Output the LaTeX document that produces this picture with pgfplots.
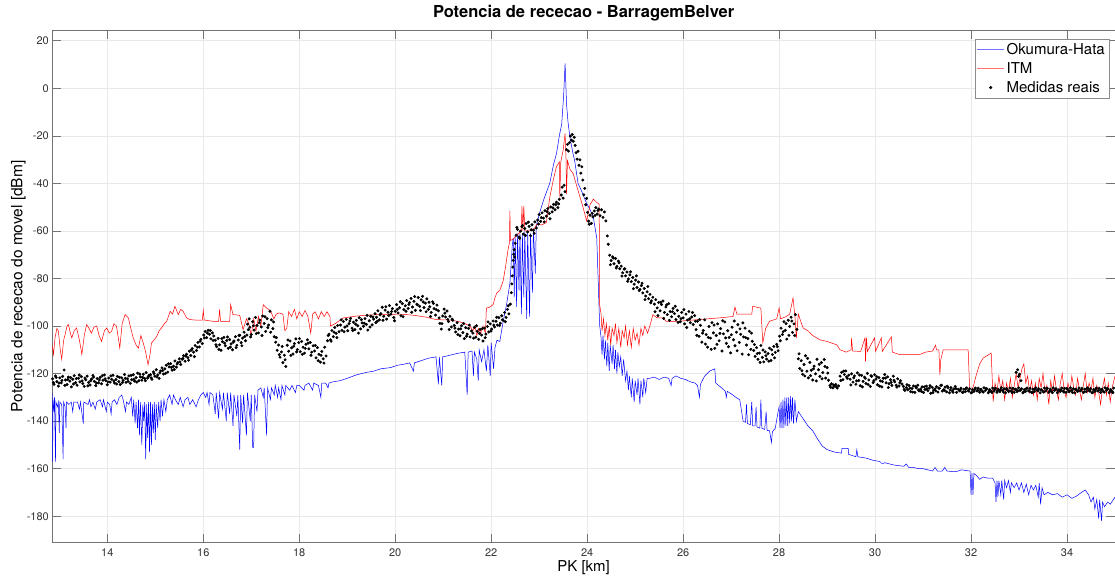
\documentclass[border=0pt]{standalone}
\usepackage{pgfplots}
\pgfplotsset{compat=1.18}
\usepackage{fontspec}
\setmainfont{TeX Gyre Heros}
\definecolor{axgray}{gray}{0.45}
\definecolor{tkgray}{gray}{0.2}
\begin{document}
\begin{tikzpicture}[x=1pt,y=1pt]
\useasboundingbox (0,0) rectangle (1115,575);
\begin{axis}[
  at={(52.3pt,32.3pt)}, anchor=south west,
  scale only axis, width=1062.7pt, height=512.7pt,
  xmin=12.854, xmax=35, ymin=-191.15, ymax=24.52,
  xtick={14,16,...,34}, ytick={-180,-160,...,20},
  grid=major, major grid style={gray!18, line width=0.5pt},
  axis line style={axgray, line width=0.6pt},
  every tick/.style={axgray, line width=0.6pt},
  major tick length=9pt,
  tick label style={font=\fontsize{11}{13}\selectfont, text=tkgray},
  xticklabel style={yshift=-2pt},
  /pgf/number format/assume math mode=true,
  title={Potencia de rececao - BarragemBelver},
  title style={at={(axis description cs:0.5,1)}, anchor=center, yshift=11pt, font=\fontsize{16.5}{19}\selectfont\bfseries},
  xlabel={PK [km]},
  xlabel style={at={(axis description cs:0.5,0)}, anchor=center, yshift=-25pt, font=\fontsize{15}{18}\selectfont},
  ylabel={Potencia de rececao do movel [dBm]},
  ylabel style={at={(axis description cs:0,0.5)}, anchor=center, yshift=34pt, font=\fontsize{15.5}{18}\selectfont},
  legend style={at={(axis description cs:1,1)}, anchor=north east, xshift=-6pt, yshift=-9pt,
    draw=black!45, line width=0.5pt, font=\fontsize{15}{17}\selectfont, inner sep=2pt,
    row sep=2.5pt, cells={anchor=west}},
]
\addlegendimage{legend image code/.code={\draw[draw=blue!55, line width=0.8pt] (0pt,0pt) -- (27pt,0pt);}}
\addlegendentry{Okumura-Hata}
\addlegendimage{legend image code/.code={\draw[draw=red!55, line width=0.8pt] (0pt,0pt) -- (27pt,0pt);}}
\addlegendentry{ITM}
\addlegendimage{legend image code/.code={\fill[fill=black] (13.5pt,0pt) circle (1.3pt);}}
\addlegendentry{Medidas reais}
\addplot[blue, line width=0.5pt, forget plot] table {
12.854 -128
12.86 -157
12.87 -131
12.89 -136
12.90 -130
12.92 -157
12.93 -132
12.96 -134
12.98 -132
13.00 -145
13.01 -132
13.05 -133
13.08 -156
13.09 -132
13.12 -134
13.14 -143
13.15 -132
13.20 -133
13.25 -132
13.28 -136
13.30 -132
13.38 -132
13.42 -135
13.44 -132
13.50 -141
13.51 -132
13.60 -133
13.63 -131
13.66 -134
13.70 -132
13.75 -135
13.78 -132
13.85 -131
13.90 -134
13.92 -131
13.98 -136
14.00 -132
14.05 -133
14.08 -137
14.10 -132
14.15 -131
14.20 -133
14.25 -130
14.30 -129
14.33 -131
14.38 -136
14.40 -132
14.45 -133
14.50 -130
14.53 -138
14.55 -131
14.58 -141
14.60 -132
14.63 -143
14.65 -131
14.67 -146
14.69 -132
14.72 -150
14.74 -133
14.76 -140
14.78 -132
14.80 -156
14.82 -133
14.84 -147
14.86 -132
14.88 -153
14.90 -132
14.92 -150
14.94 -133
14.96 -145
14.98 -132
15.00 -148
15.02 -133
15.05 -143
15.07 -132
15.10 -140
15.12 -131
15.15 -138
15.18 -131
15.22 -136
15.25 -131
15.30 -129
15.35 -133
15.38 -129
15.42 -131
15.48 -133
15.52 -130
15.58 -134
15.62 -131
15.68 -130
15.72 -133
15.78 -131
15.85 -134
15.90 -131
15.95 -129
16.00 -128
16.05 -130
16.08 -128
16.12 -133
16.14 -128
16.20 -129
16.25 -137
16.27 -128
16.32 -139
16.34 -128
16.40 -135
16.42 -128
16.48 -140
16.50 -128
16.55 -137
16.57 -128
16.62 -142
16.64 -129
16.70 -138
16.72 -129
16.76 -152
16.78 -129
16.82 -141
16.84 -129
16.90 -146
16.92 -128
16.98 -140
17.00 -129
17.03 -151
17.05 -151
17.07 -129
17.12 -136
17.14 -127
17.20 -126
17.25 -130
17.27 -126
17.32 -146
17.34 -126
17.40 -131
17.42 -126
17.48 -129
17.50 -125
17.55 -130
17.57 -126
17.62 -131
17.64 -125
17.70 -129
17.72 -125
17.80 -127
17.85 -125
17.92 -128
17.95 -125
18.00 -125
18.10 -127
18.12 -125
18.20 -124
18.28 -127
18.30 -124
18.40 -125
18.45 -130
18.47 -124
18.55 -124
18.60 -126
18.62 -124
18.70 -123.5
18.85 -123
19.00 -122
19.20 -120.5
19.40 -119.5
19.55 -119
19.70 -118
19.90 -117.5
20.05 -116.5
20.20 -116
20.30 -115.5
20.38 -119
20.40 -115.5
20.55 -114.5
20.70 -113.5
20.85 -113
20.90 -124.5
20.92 -113
20.97 -125
20.99 -113
21.10 -112.5
21.30 -111.5
21.45 -111
21.50 -129
21.52 -111
21.60 -110.5
21.63 -121
21.65 -111
21.70 -114
21.73 -123
21.75 -110
21.80 -115
21.85 -110
21.90 -119
21.93 -108
21.98 -121
22.00 -107
22.05 -118
22.08 -109
22.12 -106
22.18 -106.5
22.25 -98
22.32 -91
22.39 -82
22.44 -66
22.46 -63
22.48 -88
22.50 -62
22.53 -92
22.55 -61
22.58 -85
22.60 -61
22.63 -95
22.65 -61
22.68 -88
22.70 -60
22.74 -97
22.76 -60
22.80 -96
22.82 -61
22.86 -86
22.88 -59
22.92 -78
22.94 -58
23.00 -53
23.10 -46.5
23.22 -40
23.30 -32
23.36 -27.5
23.42 -20
23.47 -15
23.51 -3
23.54 10.5
23.57 -6.5
23.60 -14
23.64 -20.5
23.70 -27
23.74 -30.5
23.81 -40
23.90 -44
23.99 -48.5
24.06 -51
24.13 -54.5
24.20 -63
24.23 -81
24.26 -99.5
24.29 -105
24.31 -112
24.33 -104
24.36 -114
24.38 -106
24.41 -117
24.43 -107
24.46 -119
24.48 -108
24.52 -116
24.54 -108
24.57 -118
24.59 -110
24.62 -120
24.64 -111
24.67 -117
24.70 -113
24.73 -121
24.76 -114
24.80 -123
24.83 -119
24.86 -127
24.88 -121
24.92 -130
24.94 -122
24.98 -132
25.00 -123
25.04 -129
25.06 -122
25.10 -133
25.12 -123
25.16 -130
25.18 -122
25.22 -128
25.25 -122
25.30 -122
25.40 -121.5
25.50 -122.5
25.60 -121.5
25.70 -122
25.75 -125
25.77 -122
25.85 -121
25.95 -122
26.05 -122.5
26.15 -123.5
26.25 -124
26.30 -125
26.34 -130
26.36 -124.5
26.45 -121
26.55 -119
26.66 -118
26.68 -124
26.80 -126
26.88 -127.5
26.90 -130
26.92 -127.5
27.00 -128.5
27.10 -130
27.18 -131
27.25 -140
27.30 -140.5
27.32 -133
27.34 -141
27.40 -141.5
27.43 -132
27.45 -142
27.50 -142
27.52 -134
27.54 -142.5
27.60 -143
27.62 -131
27.64 -143
27.70 -143.5
27.73 -136
27.75 -144
27.80 -144
27.84 -149
27.86 -144.5
27.92 -143
27.98 -136
28.00 -134
28.02 -143
28.04 -132
28.06 -143
28.08 -131
28.10 -143
28.12 -130
28.14 -142
28.16 -130
28.18 -142
28.20 -130
28.22 -141
28.24 -129.5
28.26 -140
28.28 -130
28.30 -141
28.33 -131
28.36 -140
28.40 -136
28.50 -139
28.60 -142
28.70 -144
28.80 -147.5
28.90 -150.5
29.00 -152
29.15 -153
29.30 -153.5
29.31 -151.5
29.44 -151.5
29.45 -154
29.60 -155
29.62 -152
29.64 -155
29.80 -155.5
29.96 -156.5
30.10 -157
30.15 -158
30.20 -157.5
30.40 -158.5
30.60 -159
30.65 -158
30.70 -159.5
30.80 -159.5
30.90 -160
31.00 -160
31.10 -160.5
31.20 -161
31.25 -159.5
31.30 -161
31.40 -161
31.45 -159.5
31.50 -161
31.60 -161.2
31.70 -161.2
31.80 -160.5
31.90 -160.8
31.98 -161
32.00 -171
32.02 -162
32.04 -171
32.06 -162
32.12 -163
32.18 -164.5
32.25 -163.5
32.35 -164
32.45 -164
32.50 -166
32.52 -174
32.54 -165
32.56 -172
32.58 -165
32.62 -171
32.64 -165
32.68 -173
32.70 -165
32.74 -168
32.78 -165
32.82 -170
32.84 -166
32.90 -168
32.95 -166
33.00 -169
33.05 -166
33.10 -170
33.15 -166.5
33.20 -171
33.25 -167
33.30 -169
33.35 -167
33.40 -172
33.42 -166
33.45 -175
33.48 -168
33.52 -171
33.60 -170
33.70 -171
33.80 -170.5
33.90 -172
34.00 -171
34.10 -172.5
34.20 -171.5
34.30 -170
34.38 -169
34.45 -171
34.50 -174
34.55 -172
34.58 -177
34.62 -173
34.66 -181
34.68 -173
34.72 -182
34.74 -174
34.78 -176
34.85 -174
34.90 -175
35.00 -172
};
\addplot[red, line width=0.5pt, forget plot] table {
12.854 -108
12.88 -112
12.91 -105
12.95 -101
12.98 -102
13.02 -110
13.05 -114
13.09 -106
13.12 -103.7
13.16 -100
13.19 -99.4
13.23 -103
13.26 -105
13.31 -102
13.36 -100.8
13.42 -106
13.47 -112
13.52 -104
13.57 -99.4
13.62 -101
13.67 -103
13.72 -100.5
13.78 -100
13.83 -104
13.88 -106.5
13.94 -102
13.99 -100.8
14.04 -103
14.09 -102.2
14.14 -99
14.19 -100
14.23 -105
14.26 -109.3
14.31 -99
14.37 -95.2
14.44 -96.6
14.49 -101
14.54 -105
14.60 -108
14.65 -109.3
14.70 -104
14.75 -107.2
14.80 -111
14.85 -116.3
14.89 -112
14.92 -107.2
14.97 -106
15.03 -104.4
15.08 -102
15.13 -100.8
15.19 -99
15.24 -98
15.31 -93.8
15.36 -95
15.41 -91.7
15.48 -95.2
15.53 -93
15.58 -93.8
15.65 -96.5
15.72 -97.3
15.85 -97.5
15.98 -97.5
16.00 -93.5
16.02 -97.5
16.20 -98
16.32 -98
16.34 -93
16.36 -98
16.55 -98
16.57 -91
16.62 -95.2
16.76 -95.5
16.83 -101.5
16.90 -97
16.95 -99
17.00 -104
17.05 -97
17.10 -102
17.15 -96
17.20 -100
17.25 -91
17.32 -92.5
17.40 -93.5
17.47 -97
17.52 -95
17.58 -94.5
17.66 -95
17.70 -102
17.74 -101
17.78 -94
17.84 -96
17.90 -93
17.95 -97
18.00 -94
18.06 -96
18.12 -93.5
18.18 -96
18.24 -103
18.28 -95
18.33 -94
18.40 -97
18.46 -94
18.52 -96
18.58 -94
18.64 -96
18.65 -100
18.75 -99
18.92 -96.6
19.20 -95.8
19.50 -95.3
19.75 -95.2
20.10 -95
20.40 -95.5
20.65 -96.3
20.85 -97.3
21.14 -97.5
21.30 -98
21.42 -98.7
21.56 -100
21.62 -102
21.66 -100
21.70 -104
21.74 -101
21.78 -103
21.83 -100
21.88 -103
21.90 -92.5
21.97 -92
22.04 -91
22.08 -88
22.12 -86
22.18 -85
22.25 -81
22.30 -75
22.35 -68
22.38 -65
22.39 -51.5
22.40 -64
22.46 -63.5
22.52 -62
22.58 -61
22.63 -60
22.64 -49.5
22.66 -60
22.68 -49.5
22.70 -60
22.80 -60
22.90 -59
22.95 -57.2
23.05 -57.5
23.15 -56.5
23.22 -46
23.30 -38
23.36 -33
23.42 -31
23.43 -46
23.45 -31
23.50 -26
23.54 -19
23.56 -30
23.57 -44.5
23.59 -30.4
23.64 -34
23.71 -36
23.81 -43
23.90 -49
23.99 -55.8
24.06 -49
24.13 -46.6
24.20 -48
24.25 -48.7
24.26 -91
24.29 -95
24.31 -102
24.34 -97
24.37 -104
24.40 -99
24.43 -106
24.46 -100
24.49 -108
24.52 -101
24.56 -104
24.59 -99
24.62 -107
24.66 -101
24.70 -109
24.73 -102
24.77 -105
24.80 -100
24.84 -108
24.88 -102
24.92 -109
24.96 -101
25.00 -106
25.04 -103
25.08 -108
25.12 -101
25.16 -104
25.20 -100
25.26 -103
25.32 -99
25.37 -95.2
25.45 -96.5
25.58 -96.6
25.65 -98
25.90 -98
26.20 -97.5
26.50 -97
26.80 -96.5
27.04 -96
27.08 -92
27.12 -95
27.43 -95
27.45 -91.7
27.62 -92.5
27.66 -107
27.72 -101
27.80 -98
27.95 -97
28.00 -92.4
28.03 -97
28.15 -96
28.22 -95
28.29 -88.2
28.33 -96
28.36 -105
28.40 -95
28.45 -98
28.50 -100.8
28.60 -102
28.70 -104
28.85 -105.8
29.00 -106.5
29.20 -107.9
29.27 -110
29.40 -111
29.50 -110
29.51 -105
29.53 -110.5
29.70 -110.7
29.79 -105
29.80 -114.9
29.82 -105
29.84 -110.7
29.99 -105
30.01 -110.7
30.13 -105
30.15 -110.7
30.34 -104.5
30.36 -111
30.51 -112
30.70 -112
30.93 -112
31.05 -111
31.20 -110.5
31.26 -108
31.28 -110
31.33 -110
31.35 -120.5
31.37 -114
31.42 -110
31.60 -110
31.80 -110
31.94 -110
31.97 -126.2
32.04 -126
32.11 -120.5
32.18 -116
32.25 -113.5
32.42 -111.4
32.46 -131.8
32.50 -124
32.54 -128
32.58 -121
32.62 -127
32.66 -123
32.70 -131
32.74 -124
32.78 -128
32.82 -122
32.86 -130
32.90 -125
32.94 -120
32.98 -126
33.02 -122
33.06 -118
33.10 -116
33.14 -124
33.18 -121
33.22 -128
33.26 -123
33.30 -129
33.34 -124
33.38 -131
33.42 -122
33.46 -126
33.50 -120
33.54 -128
33.58 -125
33.62 -133
33.66 -123
33.70 -128
33.74 -121
33.78 -127
33.82 -131
33.86 -124
33.90 -120
33.94 -127
33.98 -130
34.02 -124
34.06 -128
34.10 -121
34.14 -126
34.18 -129
34.22 -122
34.26 -127
34.30 -131
34.34 -125
34.38 -120
34.42 -128
34.46 -124
34.50 -127
34.54 -122
34.58 -130
34.62 -125
34.66 -128
34.70 -133
34.74 -126
34.78 -122
34.82 -129
34.86 -124
34.90 -132
34.94 -126
35.00 -121
};
\addplot[only marks, mark=*, mark size=1.3pt, black, forget plot] table {
12.86 -122.2
12.89 -124.5
12.92 -121.0
12.95 -123.4
12.98 -125.3
13.01 -121.8
13.04 -123.9
13.07 -121.2
13.10 -118.5
13.13 -122.7
13.16 -124.6
13.19 -121.5
13.22 -123.2
13.25 -125.6
13.28 -122.4
13.31 -120.9
13.34 -123.8
13.37 -124.9
13.40 -122.0
13.43 -123.5
13.46 -121.3
13.49 -124.2
13.52 -125.4
13.55 -122.6
13.58 -121.1
13.61 -123.7
13.64 -124.8
13.67 -122.3
13.70 -120.8
13.73 -123.3
13.76 -125.1
13.79 -122.1
13.82 -123.9
13.85 -121.6
13.88 -124.3
13.91 -122.8
13.94 -120.6
13.97 -123.0
14.00 -124.7
14.03 -121.9
14.06 -123.6
14.09 -122.4
14.12 -120.7
14.15 -124.0
14.18 -122.5
14.21 -121.2
14.24 -123.4
14.27 -124.6
14.30 -121.8
14.33 -122.9
14.36 -120.4
14.39 -123.7
14.42 -122.2
14.45 -121.0
14.48 -124.1
14.51 -122.6
14.54 -120.5
14.57 -123.2
14.60 -121.7
14.63 -119.8
14.66 -123.0
14.69 -121.4
14.72 -122.8
14.75 -120.3
14.78 -122.1
14.81 -119.6
14.84 -121.9
14.87 -120.7
12.875 -123.8
12.935 -121.6
12.995 -124.0
13.055 -122.9
13.115 -125.0
13.175 -122.5
13.235 -121.7
13.295 -124.4
13.355 -122.1
13.415 -120.6
13.475 -123.1
13.535 -121.9
13.595 -125.2
13.655 -123.0
13.715 -121.5
13.775 -124.0
13.835 -122.7
13.895 -120.9
13.955 -122.2
14.015 -123.5
14.075 -121.0
14.135 -123.1
14.195 -124.4
14.255 -121.6
14.315 -123.8
14.375 -122.0
14.435 -123.3
14.495 -120.8
14.555 -122.4
14.615 -123.6
14.675 -120.2
14.735 -121.6
14.795 -123.0
14.855 -121.3
14.90 -120.5
14.93 -122.4
14.96 -119.3
14.99 -121.1
15.02 -118.4
15.05 -120.6
15.08 -122.0
15.11 -118.9
15.14 -117.6
15.17 -120.2
15.20 -118.0
15.23 -116.5
15.26 -119.4
15.29 -117.2
15.32 -115.8
15.35 -118.6
15.38 -116.9
15.41 -114.7
15.44 -117.3
15.47 -115.4
15.50 -113.8
15.53 -116.2
15.56 -114.0
15.59 -112.5
14.915 -121.8
14.975 -120.0
15.035 -121.4
15.095 -119.7
15.155 -118.7
15.215 -119.9
15.275 -115.9
15.335 -117.4
15.395 -118.3
15.455 -116.0
15.515 -115.1
15.575 -113.6
15.62 -114.8
15.65 -111.9
15.68 -113.3
15.71 -110.6
15.74 -112.4
15.77 -109.5
15.80 -111.0
15.83 -108.2
15.86 -110.3
15.89 -106.9
15.92 -108.8
15.95 -105.6
15.98 -107.4
15.635 -112.6
15.695 -114.4
15.755 -110.1
15.815 -112.9
15.875 -108.9
15.935 -106.4
16.01 -103.8
16.04 -102.3
16.07 -104.9
16.10 -101.8
16.13 -103.5
16.16 -105.4
16.19 -102.9
16.22 -104.2
16.025 -105.0
16.085 -103.0
16.145 -101.9
16.205 -106.1
16.25 -106.0
16.28 -108.7
16.31 -105.2
16.34 -107.9
16.37 -110.2
16.40 -106.6
16.43 -104.8
16.46 -108.3
16.49 -106.1
16.52 -109.4
16.55 -105.7
16.58 -107.5
16.61 -110.0
16.64 -106.3
16.67 -104.5
16.70 -108.1
16.73 -105.9
16.76 -103.9
16.79 -107.0
16.82 -105.1
16.85 -102.6
16.88 -106.2
16.91 -103.8
16.94 -101.5
16.265 -107.9
16.325 -109.8
16.385 -105.3
16.445 -107.2
16.505 -104.6
16.565 -108.9
16.625 -106.8
16.685 -109.1
16.745 -104.0
16.805 -108.3
16.865 -104.4
16.925 -99.2
16.955 -97.0
16.97 -100.5
17.00 -103.6
17.03 -98.2
17.06 -101.7
17.09 -96.4
17.12 -99.8
17.15 -102.9
17.18 -97.5
17.21 -100.4
17.24 -95.8
17.27 -98.9
17.30 -102.3
17.33 -96.9
17.36 -99.6
17.39 -93.8
17.42 -97.4
17.45 -101.1
17.48 -104.5
16.985 -104.6
17.045 -99.9
17.105 -103.2
17.165 -98.6
17.225 -104.0
17.285 -96.1
17.345 -100.7
17.405 -102.6
17.465 -98.3
17.51 -106.8
17.54 -110.2
17.57 -108.0
17.60 -113.1
17.63 -110.9
17.66 -115.4
17.69 -112.3
17.72 -117.0
17.525 -104.9
17.585 -112.0
17.645 -108.6
17.705 -114.2
17.75 -108.1
17.78 -110.6
17.81 -106.3
17.84 -109.2
17.87 -111.8
17.90 -107.4
17.93 -105.4
17.96 -109.9
17.99 -107.0
18.02 -110.8
18.05 -106.5
18.08 -108.9
18.11 -111.4
18.14 -107.7
18.17 -105.8
18.20 -109.6
18.23 -106.9
18.26 -111.0
18.29 -108.3
17.765 -105.9
17.825 -112.4
17.885 -108.5
17.945 -110.9
18.005 -105.3
18.065 -111.9
18.125 -109.4
18.185 -107.2
18.245 -112.3
18.32 -110.5
18.35 -113.4
18.38 -109.1
18.41 -111.9
18.44 -115.2
18.47 -110.7
18.50 -113.8
18.53 -108.9
18.56 -112.6
18.335 -108.2
18.395 -114.6
18.455 -112.3
18.515 -115.6
18.59 -106.2
18.62 -103.4
18.65 -105.8
18.68 -101.9
18.71 -104.5
18.74 -100.6
18.77 -103.1
18.80 -99.8
18.83 -102.4
18.605 -104.0
18.665 -106.4
18.725 -102.6
18.785 -104.9
18.86 -99.6
18.89 -101.8
18.92 -98.1
18.95 -100.5
18.98 -97.2
19.01 -102.0
19.04 -99.0
19.07 -96.8
19.10 -100.9
19.13 -98.4
19.16 -101.5
19.19 -97.6
19.22 -99.9
19.25 -96.5
19.28 -101.2
19.31 -98.7
19.34 -100.1
19.37 -96.9
19.40 -99.3
19.43 -101.7
19.46 -97.8
19.49 -95.9
19.52 -99.5
19.55 -97.1
19.58 -94.8
18.875 -97.4
18.935 -102.4
18.995 -100.0
19.055 -97.9
19.115 -101.9
19.175 -99.2
19.235 -103.0
19.295 -97.3
19.355 -98.8
19.415 -95.5
19.475 -100.4
19.535 -96.2
19.595 -98.6
19.61 -96.3
19.64 -93.6
19.67 -97.4
19.70 -94.8
19.73 -92.1
19.76 -95.9
19.79 -93.3
19.82 -97.1
19.85 -94.2
19.88 -91.4
19.91 -95.0
19.94 -92.7
19.97 -96.4
20.00 -93.8
20.03 -91.0
20.06 -94.5
20.09 -92.3
20.12 -95.7
20.15 -90.6
20.18 -93.1
19.625 -98.0
19.685 -95.3
19.745 -97.6
19.805 -91.9
19.865 -95.6
19.925 -93.9
19.985 -97.8
20.045 -93.0
20.105 -89.8
20.165 -96.1
20.21 -91.5
20.24 -89.3
20.27 -92.6
20.30 -90.1
20.33 -88.4
20.36 -92.0
20.39 -89.6
20.42 -93.4
20.45 -90.8
20.48 -88.0
20.51 -91.7
20.54 -89.0
20.57 -87.5
20.60 -92.2
20.63 -90.4
20.66 -88.6
20.69 -93.0
20.225 -93.8
20.285 -90.9
20.345 -94.2
20.405 -87.6
20.465 -91.1
20.525 -93.5
20.585 -89.9
20.645 -94.0
20.705 -90.0
20.72 -91.9
20.75 -94.3
20.78 -89.8
20.81 -92.7
20.84 -95.4
20.87 -91.2
20.90 -93.6
20.93 -98.9
20.96 -101.3
20.99 -95.8
21.02 -92.9
21.05 -96.2
21.08 -93.7
20.735 -96.0
20.795 -90.5
20.855 -93.1
20.915 -96.6
20.975 -99.0
21.035 -94.6
21.095 -97.2
21.11 -98.1
21.14 -95.9
21.17 -100.4
21.20 -97.6
21.23 -99.8
21.26 -102.5
21.29 -98.6
21.32 -101.3
21.35 -104.1
21.38 -99.9
21.41 -102.8
21.44 -105.3
21.47 -100.7
21.50 -103.4
21.53 -101.0
21.56 -104.6
21.59 -102.1
21.125 -101.5
21.185 -97.1
21.245 -100.9
21.305 -103.6
21.365 -101.2
21.425 -99.0
21.485 -104.3
21.545 -99.6
21.62 -103.0
21.65 -100.6
21.68 -104.7
21.71 -102.2
21.74 -105.6
21.77 -101.4
21.80 -103.8
21.83 -106.3
21.86 -100.9
21.89 -103.4
21.635 -105.1
21.695 -99.9
21.755 -103.1
21.815 -101.1
21.875 -104.9
21.92 -100.2
21.95 -102.5
21.98 -99.1
22.01 -101.3
22.04 -97.9
22.07 -100.4
22.10 -98.0
22.13 -99.6
22.16 -96.5
22.19 -98.8
22.22 -95.7
22.25 -97.6
22.28 -94.3
22.31 -96.4
22.34 -93.0
22.37 -94.9
22.40 -90.8
21.935 -98.3
21.995 -102.1
22.055 -99.6
22.115 -96.3
22.175 -99.8
22.235 -97.4
22.295 -98.2
22.355 -91.5
22.42 -86.0
22.43 -82.3
22.44 -78.9
22.45 -75.2
22.46 -72.4
22.47 -69.8
22.48 -67.9
22.49 -71.0
22.50 -65.2
22.52 -61.8
22.55 -59.4
22.58 -62.5
22.61 -60.1
22.64 -58.2
22.67 -61.3
22.70 -59.0
22.73 -56.9
22.76 -60.4
22.79 -58.1
22.82 -62.0
22.85 -57.4
22.88 -59.7
22.91 -56.2
22.94 -58.8
22.535 -58.5
22.595 -63.1
22.655 -57.7
22.715 -61.9
22.775 -56.3
22.835 -59.5
22.895 -61.0
22.97 -55.4
23.00 -53.1
23.03 -56.0
23.06 -52.4
23.09 -54.6
23.12 -51.5
23.15 -53.8
23.18 -50.6
23.21 -52.7
23.24 -49.9
23.27 -52.0
23.30 -48.8
23.33 -51.1
23.36 -47.9
23.39 -50.2
23.42 -46.7
22.985 -57.1
23.045 -54.4
23.105 -56.2
23.165 -51.9
23.225 -54.9
23.285 -50.3
23.345 -49.0
23.405 -48.6
23.46 -44.9
23.48 -41.6
23.50 -46.2
23.52 -40.8
23.54 -43.5
23.57 -25.8
23.59 -23.6
23.61 -26.4
23.63 -22.9
23.65 -20.1
23.67 -21.8
23.69 -19.4
23.71 -22.3
23.73 -20.6
23.75 -24.0
23.77 -27.1
23.79 -29.8
23.81 -26.5
23.83 -32.4
23.85 -30.1
23.87 -35.7
23.89 -33.0
23.91 -38.6
23.93 -44.8
23.95 -42.1
23.97 -49.0
23.99 -46.3
24.01 -52.2
24.03 -55.9
24.06 -53.4
24.09 -56.8
24.12 -54.1
24.15 -51.6
24.18 -50.2
24.21 -52.9
24.24 -50.8
24.27 -53.6
24.30 -51.1
24.33 -54.3
24.36 -52.0
24.39 -55.8
24.045 -57.2
24.105 -52.6
24.165 -53.5
24.225 -51.4
24.42 -62.1
24.44 -65.6
24.47 -70.2
24.50 -72.5
24.53 -70.9
24.56 -73.8
24.59 -71.6
24.62 -74.9
24.65 -72.7
24.68 -75.9
24.485 -74.2
24.545 -71.4
24.605 -75.6
24.665 -73.4
24.71 -74.8
24.74 -77.6
24.77 -76.1
24.80 -78.9
24.83 -77.3
24.86 -80.2
24.89 -78.5
24.92 -81.3
24.95 -79.6
24.98 -82.4
25.01 -80.7
25.04 -83.8
25.07 -81.5
25.10 -84.6
25.13 -83.0
25.16 -86.1
25.19 -84.2
25.22 -87.4
25.25 -85.6
25.28 -88.5
25.31 -86.7
25.34 -89.4
25.37 -87.9
24.725 -79.0
24.785 -75.9
24.845 -81.2
24.905 -77.2
24.965 -84.3
25.025 -78.9
25.085 -85.1
25.145 -82.0
25.205 -88.9
25.265 -83.4
25.325 -90.2
25.40 -90.8
25.43 -88.9
25.46 -92.4
25.49 -90.1
25.52 -93.6
25.55 -91.0
25.58 -89.5
25.61 -94.3
25.64 -92.0
25.67 -95.2
25.70 -90.6
25.73 -93.9
25.76 -96.1
25.79 -92.6
25.82 -94.8
25.85 -97.3
25.88 -93.4
25.91 -95.9
25.94 -98.2
25.97 -94.3
26.00 -96.6
26.03 -99.1
26.06 -95.0
26.09 -97.5
26.12 -93.9
26.15 -98.6
26.18 -96.2
26.21 -99.4
26.24 -95.6
25.415 -94.0
25.475 -95.6
25.535 -90.0
25.595 -96.8
25.655 -91.1
25.715 -97.6
25.775 -94.0
25.835 -91.7
25.895 -98.5
25.955 -96.9
26.015 -93.1
26.075 -100.6
26.135 -97.0
26.195 -94.3
26.255 -98.0
26.27 -101.5
26.30 -98.0
26.33 -104.3
26.36 -99.7
26.39 -106.8
26.42 -101.9
26.45 -97.4
26.48 -103.6
26.51 -108.9
26.54 -100.2
26.57 -105.1
26.60 -98.6
26.63 -102.9
26.66 -109.4
26.69 -104.0
26.72 -99.1
26.75 -106.2
26.78 -101.1
26.81 -110.5
26.84 -103.3
26.87 -98.3
26.90 -107.3
26.93 -102.0
26.96 -104.8
26.99 -111.3
27.02 -100.5
27.05 -105.8
27.08 -108.3
27.11 -102.6
27.14 -99.4
27.17 -106.9
27.20 -103.5
27.23 -111.8
27.26 -104.6
27.29 -100.9
27.32 -108.0
27.35 -105.3
27.38 -102.2
27.41 -109.8
27.44 -106.4
26.285 -103.9
26.345 -97.3
26.405 -103.0
26.465 -107.6
26.525 -104.8
26.585 -109.8
26.645 -99.6
26.705 -107.7
26.765 -103.1
26.825 -97.8
26.885 -105.0
26.945 -108.7
27.005 -103.7
27.065 -97.9
27.125 -110.4
27.185 -101.2
27.245 -98.7
27.305 -104.9
27.365 -112.1
27.425 -103.0
27.47 -110.3
27.50 -112.8
27.53 -109.1
27.56 -114.0
27.59 -111.4
27.62 -108.2
27.65 -113.2
27.68 -115.1
27.71 -110.9
27.74 -113.9
27.77 -111.6
27.80 -109.3
27.83 -114.5
27.86 -112.0
27.89 -108.6
27.92 -111.1
27.95 -107.7
27.98 -110.4
27.485 -107.8
27.545 -111.6
27.605 -115.3
27.665 -110.1
27.725 -112.5
27.785 -114.8
27.845 -110.0
27.905 -113.4
27.965 -108.7
28.01 -104.3
28.04 -100.9
28.07 -103.6
28.10 -98.2
28.13 -101.8
28.16 -105.5
28.19 -97.6
28.22 -100.2
28.25 -96.3
28.28 -102.7
28.31 -99.1
28.34 -95.2
28.37 -101.4
28.025 -106.2
28.085 -102.4
28.145 -99.0
28.205 -103.9
28.265 -97.9
28.325 -104.0
28.40 -113.8
28.43 -117.9
28.46 -114.6
28.49 -120.3
28.52 -116.2
28.55 -112.5
28.58 -119.0
28.61 -121.8
28.64 -115.3
28.67 -118.6
28.70 -122.7
28.73 -116.9
28.76 -120.1
28.79 -114.0
28.82 -118.4
28.85 -121.2
28.415 -111.7
28.475 -118.8
28.535 -121.0
28.595 -113.6
28.655 -120.9
28.715 -118.0
28.775 -123.1
28.835 -116.1
28.88 -115.4
28.91 -119.6
28.94 -114.1
28.97 -121.9
29.00 -117.5
29.03 -122.8
28.895 -122.2
28.955 -117.0
29.015 -119.8
29.06 -125.0
29.09 -124.3
29.12 -126.0
29.15 -125.3
29.18 -124.6
29.21 -126.1
29.24 -125.2
29.075 -125.8
29.135 -124.8
29.195 -125.6
29.27 -121.1
29.30 -119.5
29.33 -122.6
29.36 -120.4
29.39 -118.9
29.42 -122.0
29.45 -120.7
29.285 -122.9
29.345 -119.0
29.405 -121.4
29.48 -122.4
29.51 -120.1
29.54 -123.6
29.57 -121.0
29.60 -124.5
29.63 -119.7
29.66 -122.9
29.69 -125.1
29.72 -120.8
29.75 -123.3
29.78 -121.5
29.81 -124.2
29.84 -119.9
29.87 -122.7
29.90 -125.4
29.93 -121.2
29.96 -123.8
29.99 -120.5
30.02 -122.3
30.05 -124.7
30.08 -121.7
30.11 -123.1
30.14 -125.6
30.17 -122.0
30.20 -120.4
30.23 -123.9
30.26 -121.4
30.29 -124.3
30.32 -122.6
30.35 -125.0
30.38 -121.1
30.41 -123.5
30.44 -124.9
30.47 -122.2
30.50 -125.2
30.53 -123.0
30.56 -124.4
29.495 -124.8
29.555 -121.8
29.615 -123.1
29.675 -120.6
29.735 -125.6
29.795 -122.0
29.855 -124.6
29.915 -120.9
29.975 -123.0
30.035 -121.3
30.095 -125.3
30.155 -123.4
30.215 -121.9
30.275 -125.9
30.335 -123.7
30.395 -122.8
30.455 -125.7
30.515 -123.9
30.59 -125.4
30.62 -127.1
30.65 -125.9
30.68 -126.8
30.71 -125.1
30.74 -127.6
30.77 -126.3
30.80 -125.2
30.83 -127.9
30.86 -126.0
30.89 -124.9
30.92 -127.3
30.95 -126.5
30.98 -125.6
31.01 -128.0
31.04 -126.7
31.07 -125.3
31.10 -127.2
31.13 -126.1
31.16 -128.3
31.19 -125.8
31.22 -127.0
31.25 -126.4
31.28 -125.5
31.31 -127.8
31.34 -126.2
31.37 -125.0
31.40 -127.4
31.43 -126.8
31.46 -125.7
31.49 -127.7
31.52 -126.0
31.55 -128.1
31.58 -125.9
31.61 -127.3
31.64 -126.5
31.67 -125.4
31.70 -127.9
31.73 -126.6
30.605 -126.6
30.665 -124.7
30.725 -126.2
30.785 -127.8
30.845 -125.5
30.905 -126.9
30.965 -127.5
31.025 -125.6
31.085 -126.4
31.145 -125.1
31.205 -128.0
31.265 -127.3
31.325 -126.1
31.385 -124.9
31.445 -127.1
31.505 -125.3
31.565 -126.9
31.625 -127.9
31.685 -126.3
31.76 -127.3
31.79 -126.2
31.82 -127.9
31.85 -126.6
31.88 -127.6
31.91 -126.0
31.94 -127.1
31.97 -126.4
32.00 -128.1
32.03 -126.8
32.06 -127.5
32.09 -126.1
32.12 -127.3
32.15 -126.2
32.18 -127.9
32.21 -126.6
32.24 -127.6
32.27 -126.0
32.30 -127.1
32.33 -126.4
32.36 -128.1
32.39 -126.8
32.42 -127.5
32.45 -126.1
32.48 -127.3
32.51 -126.2
32.54 -127.9
32.57 -126.6
32.60 -127.6
32.63 -126.0
32.66 -127.1
32.69 -126.4
32.72 -128.1
32.75 -126.8
32.78 -127.5
32.81 -126.1
32.84 -127.3
32.87 -126.2
32.90 -127.9
32.93 -126.6
32.96 -127.6
32.99 -126.0
33.02 -127.1
33.05 -126.4
33.08 -128.1
33.11 -126.8
33.14 -127.5
33.17 -126.1
33.20 -127.3
33.23 -126.2
33.26 -127.9
33.29 -126.6
33.32 -127.6
33.35 -126.0
33.38 -127.1
33.41 -126.4
33.44 -128.1
33.47 -126.8
33.50 -127.5
33.53 -126.1
33.56 -127.3
33.59 -126.2
33.62 -127.9
33.65 -126.6
33.68 -127.6
33.71 -126.0
33.74 -127.1
33.77 -126.4
33.80 -128.1
33.83 -126.8
33.86 -127.5
33.89 -126.1
33.92 -127.3
33.95 -126.2
33.98 -127.9
34.01 -126.6
34.04 -127.6
34.07 -126.0
34.10 -127.1
34.13 -126.4
34.16 -128.1
34.19 -126.8
34.22 -127.5
34.25 -126.1
34.28 -127.3
34.31 -126.2
34.34 -127.9
34.37 -126.6
34.40 -127.6
34.43 -126.0
34.46 -127.1
34.49 -126.4
34.52 -128.1
34.55 -126.8
34.58 -127.5
34.61 -126.1
34.64 -127.3
34.67 -126.2
34.70 -127.9
34.73 -126.6
34.76 -127.6
34.79 -126.0
34.82 -127.1
34.85 -126.4
34.88 -128.1
34.91 -126.8
34.94 -127.5
34.97 -126.1
31.775 -126.9
31.835 -127.8
31.895 -126.3
31.955 -127.4
32.015 -128.0
32.075 -126.6
32.135 -127.2
32.195 -126.9
32.255 -127.8
32.315 -126.3
32.375 -127.4
32.435 -128.0
32.495 -126.6
32.555 -127.2
32.615 -126.9
32.675 -127.8
32.735 -126.3
32.795 -127.4
32.855 -128.0
32.915 -126.6
32.975 -127.2
33.035 -126.9
33.095 -127.8
33.155 -126.3
33.215 -127.4
33.275 -128.0
33.335 -126.6
33.395 -127.2
33.455 -126.9
33.515 -127.8
33.575 -126.3
33.635 -127.4
33.695 -128.0
33.755 -126.6
33.815 -127.2
33.875 -126.9
33.935 -127.8
33.995 -126.3
34.055 -127.4
34.115 -128.0
34.175 -126.6
34.235 -127.2
34.295 -126.9
34.355 -127.8
34.415 -126.3
34.475 -127.4
34.535 -128.0
34.595 -126.6
34.655 -127.2
34.715 -126.9
34.775 -127.8
34.835 -126.3
34.895 -127.4
34.955 -128.0
32.94 -119.5
32.97 -118.4
32.99 -121.2
33.01 -120.3
33.04 -123.0
};
\end{axis}
\end{tikzpicture}
\end{document}
